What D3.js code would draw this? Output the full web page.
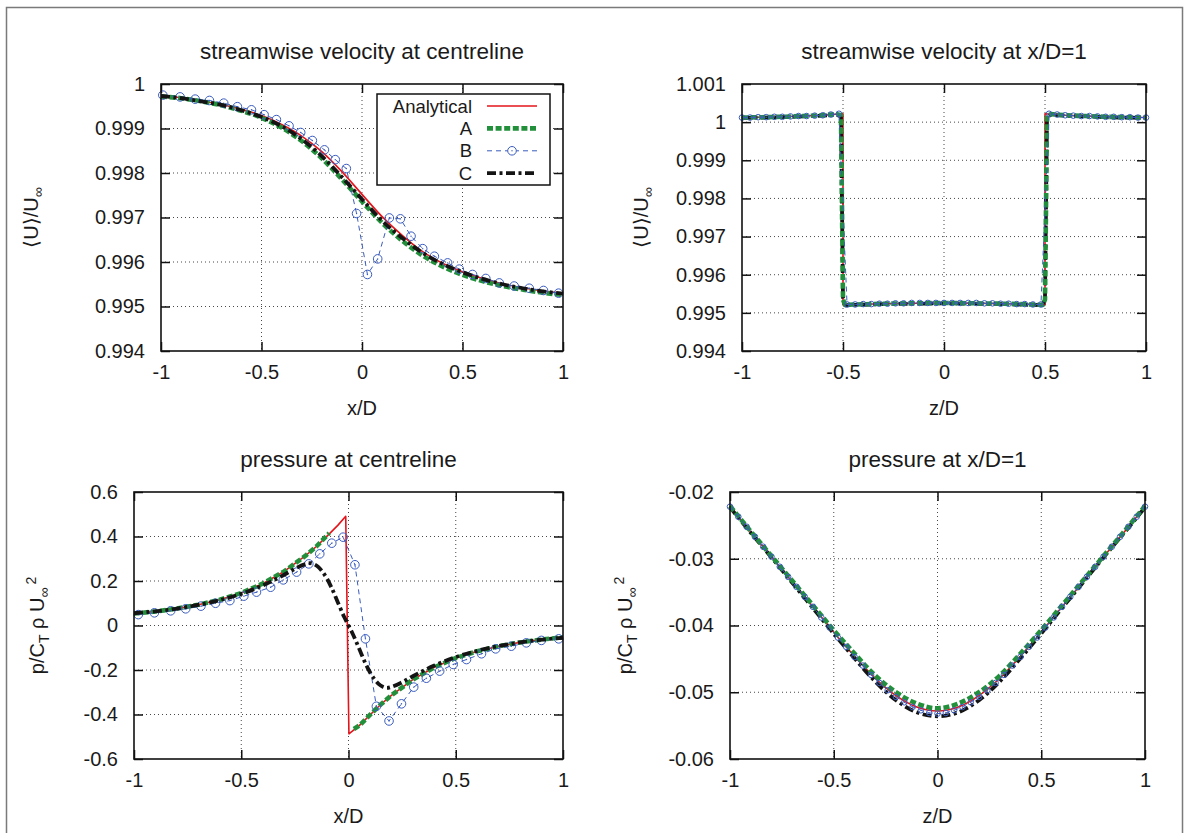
<!DOCTYPE html>
<html>
<head>
<meta charset="utf-8">
<script src="https://cdn.jsdelivr.net/npm/d3@7"></script>
<style>
body { margin: 0; background: #fff; }
svg text { font-family: "Liberation Sans", Arial, Helvetica, sans-serif; fill: #1a1a1a; }
</style>
</head>
<body>
<svg id="chart" width="1189" height="833"></svg>
<script>
// ---- data ----

// streamwise velocity at centreline (top left)
let ucX = [-1, -0.9, -0.8, -0.7, -0.6, -0.5, -0.4, -0.3, -0.2, -0.1, 0, 0.1, 0.2, 0.3, 0.4, 0.5, 0.6, 0.7, 0.8, 0.9, 1]
let ucAnalytical = [0.99973, 0.99969, 0.99962, 0.99954, 0.99943, 0.99929, 0.99909, 0.99883, 0.99848, 0.99803, 0.99752, 0.99702, 0.99660, 0.99624, 0.99597, 0.99578, 0.99563, 0.99551, 0.99542, 0.99535, 0.99530]
let ucA = [0.99972, 0.99968, 0.99961, 0.99952, 0.99940, 0.99924, 0.99902, 0.99872, 0.99833, 0.99786, 0.99736, 0.99688, 0.99648, 0.99615, 0.99590, 0.99571, 0.99557, 0.99546, 0.99538, 0.99531, 0.99526]
let ucC = [0.99973, 0.99968, 0.99961, 0.99953, 0.99941, 0.99926, 0.99905, 0.99876, 0.99838, 0.99791, 0.99741, 0.99693, 0.99654, 0.99621, 0.99596, 0.99577, 0.99562, 0.99550, 0.99541, 0.99534, 0.99529]
let ucBX = [-0.991, -0.905, -0.830, -0.759, -0.688, -0.620, -0.550, -0.487, -0.426, -0.363, -0.305, -0.247, -0.187, -0.133, -0.078, -0.027, 0.027, 0.078, 0.136, 0.191, 0.244, 0.302, 0.360, 0.426, 0.484, 0.550, 0.616, 0.683, 0.757, 0.832, 0.903, 0.978]
let ucB = [0.99975, 0.99971, 0.99966, 0.99963, 0.99957, 0.99949, 0.99942, 0.99931, 0.99920, 0.99906, 0.99891, 0.99873, 0.99852, 0.99830, 0.99810, 0.99709, 0.99572, 0.99607, 0.99699, 0.99697, 0.99658, 0.99630, 0.99613, 0.99598, 0.99584, 0.99572, 0.99563, 0.99553, 0.99546, 0.99541, 0.99536, 0.99530]

// streamwise velocity at x/D=1 (top right)
let uxZ = [-1, -0.9, -0.8, -0.7, -0.6, -0.55, -0.5, -0.5, -0.45, -0.3, -0.15, 0, 0.15, 0.3, 0.45, 0.5, 0.5, 0.55, 0.6, 0.7, 0.8, 0.9, 1]
let uxAnalytical = [1.00012, 1.00013, 1.00014, 1.00016, 1.00018, 1.0002, 1.00022, 0.99521, 0.99522, 0.99524, 0.99525, 0.99526, 0.99525, 0.99524, 0.99522, 0.99521, 1.00022, 1.0002, 1.00018, 1.00016, 1.00014, 1.00013, 1.00012]
let uxSimZ = [-1, -0.9, -0.8, -0.7, -0.6, -0.53, -0.51, -0.5, -0.49, -0.3, -0.15, 0, 0.15, 0.3, 0.49, 0.5, 0.51, 0.53, 0.6, 0.7, 0.8, 0.9, 1]
let uxA = [1.00012, 1.00013, 1.00014, 1.00016, 1.00018, 1.00021, 1.00018, 0.99535, 0.99521, 0.99524, 0.99525, 0.99526, 0.99525, 0.99524, 0.99521, 0.99535, 1.00018, 1.00021, 1.00018, 1.00016, 1.00014, 1.00013, 1.00012]
let uxC = [1.00011, 1.00012, 1.00013, 1.00015, 1.00017, 1.00019, 1.00015, 0.9954, 0.9952, 0.99523, 0.99524, 0.99525, 0.99524, 0.99523, 0.9952, 0.9954, 1.00015, 1.00019, 1.00017, 1.00015, 1.00013, 1.00012, 1.00011]
let uxBZ = [-1, -0.96, -0.92, -0.88, -0.84, -0.8, -0.76, -0.72, -0.68, -0.64, -0.6, -0.56, -0.52, -0.48, -0.44, -0.4, -0.36, -0.32, -0.28, -0.24, -0.2, -0.16, -0.12, -0.08, -0.04, 0, 0.04, 0.08, 0.12, 0.16, 0.2, 0.24, 0.28, 0.32, 0.36, 0.4, 0.44, 0.48, 0.52, 0.56, 0.6, 0.64, 0.68, 0.72, 0.76, 0.8, 0.84, 0.88, 0.92, 0.96, 1]
let uxB = [1.00012, 1.00012, 1.00013, 1.00013, 1.00014, 1.00014, 1.00015, 1.00016, 1.00016, 1.00017, 1.00018, 1.0002, 1.00022, 0.99522, 0.99522, 0.99523, 0.99523, 0.99524, 0.99524, 0.99525, 0.99525, 0.99526, 0.99526, 0.99526, 0.99526, 0.99526, 0.99526, 0.99526, 0.99526, 0.99526, 0.99525, 0.99525, 0.99524, 0.99524, 0.99523, 0.99523, 0.99522, 0.99522, 1.00022, 1.0002, 1.00018, 1.00017, 1.00016, 1.00016, 1.00015, 1.00014, 1.00014, 1.00013, 1.00013, 1.00012, 1.00012]

// pressure at centreline (bottom left)
let pcX = [-1, -0.9, -0.8, -0.7, -0.6, -0.5, -0.4, -0.3, -0.2, -0.15, -0.1, -0.05, -0.013, 0.002, 0.05, 0.1, 0.15, 0.2, 0.3, 0.4, 0.5, 0.6, 0.7, 0.8, 0.9, 1]
let pcAnalytical = [0.054, 0.063, 0.076, 0.093, 0.116, 0.146, 0.188, 0.243, 0.314, 0.355, 0.402, 0.450, 0.491, -0.487, -0.450, -0.402, -0.355, -0.314, -0.243, -0.188, -0.146, -0.116, -0.093, -0.076, -0.063, -0.053]
let pcAX = [-1, -0.9, -0.8, -0.7, -0.6, -0.5, -0.4, -0.3, -0.2, -0.15, -0.09, 0, 0.025, 0.05, 0.1, 0.15, 0.2, 0.3, 0.4, 0.5, 0.6, 0.7, 0.8, 0.9, 1]
let pcA = [0.054, 0.063, 0.076, 0.093, 0.116, 0.146, 0.188, 0.243, 0.314, 0.355, 0.415, null, -0.465, -0.450, -0.402, -0.355, -0.314, -0.243, -0.188, -0.146, -0.116, -0.093, -0.076, -0.063, -0.053]
let pcCX = [-1, -0.8, -0.6, -0.5, -0.4, -0.3, -0.25, -0.2, -0.18, -0.16, -0.14, -0.12, -0.1, -0.08, -0.05, -0.02, 0, 0.02, 0.05, 0.08, 0.1, 0.12, 0.14, 0.16, 0.18, 0.2, 0.25, 0.3, 0.4, 0.5, 0.6, 0.8, 1]
let pcC = [0.055, 0.076, 0.114, 0.142, 0.180, 0.228, 0.255, 0.276, 0.280, 0.275, 0.262, 0.240, 0.210, 0.172, 0.105, 0.038, 0, -0.038, -0.105, -0.172, -0.210, -0.240, -0.262, -0.275, -0.280, -0.276, -0.255, -0.228, -0.180, -0.142, -0.114, -0.076, -0.055]
let pcBX = [-0.980, -0.905, -0.829, -0.759, -0.688, -0.620, -0.553, -0.488, -0.429, -0.363, -0.304, -0.242, -0.185, -0.134, -0.078, -0.025, 0.030, 0.079, 0.130, 0.189, 0.247, 0.304, 0.363, 0.425, 0.488, 0.550, 0.620, 0.686, 0.759, 0.829, 0.899, 0.980]
let pcB = [0.049, 0.057, 0.066, 0.075, 0.087, 0.100, 0.112, 0.132, 0.150, 0.172, 0.205, 0.240, 0.277, 0.322, 0.370, 0.397, 0.273, -0.060, -0.363, -0.429, -0.352, -0.277, -0.237, -0.205, -0.175, -0.153, -0.127, -0.105, -0.093, -0.078, -0.067, -0.060]

// pressure at x/D=1 (bottom right)
let prZ = [-1, -0.9, -0.8, -0.7, -0.6, -0.5, -0.4, -0.3, -0.2, -0.1, 0, 0.1, 0.2, 0.3, 0.4, 0.5, 0.6, 0.7, 0.8, 0.9, 1]
let prAnalytical = [-0.0222, -0.0260, -0.0297, -0.0335, -0.0372, -0.0410, -0.0446, -0.0479, -0.0505, -0.0522, -0.0528, -0.0522, -0.0505, -0.0479, -0.0446, -0.0410, -0.0372, -0.0335, -0.0297, -0.0260, -0.0222]
let prA = [-0.0221, -0.0259, -0.0296, -0.0333, -0.0370, -0.0407, -0.0442, -0.0475, -0.0500, -0.0517, -0.0524, -0.0517, -0.0500, -0.0475, -0.0442, -0.0407, -0.0370, -0.0333, -0.0296, -0.0259, -0.0221]
let prC = [-0.0223, -0.0261, -0.0298, -0.0336, -0.0374, -0.0412, -0.0449, -0.0484, -0.0512, -0.0530, -0.0536, -0.0530, -0.0512, -0.0484, -0.0449, -0.0412, -0.0374, -0.0336, -0.0298, -0.0261, -0.0223]
let prBZ = uxBZ
let prB = [-0.0222, -0.0237, -0.0252, -0.0267, -0.0282, -0.0297, -0.0312, -0.0327, -0.0342, -0.0357, -0.0372, -0.0388, -0.0403, -0.0418, -0.0432, -0.0447, -0.0460, -0.0474, -0.0486, -0.0497, -0.0507, -0.0515, -0.0522, -0.0527, -0.0531, -0.0532, -0.0531, -0.0527, -0.0522, -0.0515, -0.0507, -0.0497, -0.0486, -0.0474, -0.0460, -0.0447, -0.0432, -0.0418, -0.0403, -0.0388, -0.0372, -0.0357, -0.0342, -0.0327, -0.0312, -0.0297, -0.0282, -0.0267, -0.0252, -0.0237, -0.0222]

// ticks
let xTicks = [-1, -0.5, 0, 0.5, 1]
let xTickLabels = ['-1', '-0.5', '0', '0.5', '1']
let ucTicks = [0.994, 0.995, 0.996, 0.997, 0.998, 0.999, 1]
let ucTickLabels = ['0.994', '0.995', '0.996', '0.997', '0.998', '0.999', '1']
let uxTicks = [0.994, 0.995, 0.996, 0.997, 0.998, 0.999, 1, 1.001]
let uxTickLabels = ['0.994', '0.995', '0.996', '0.997', '0.998', '0.999', '1', '1.001']
let pcTicks = [-0.6, -0.4, -0.2, 0, 0.2, 0.4, 0.6]
let pcTickLabels = ['-0.6', '-0.4', '-0.2', '0', '0.2', '0.4', '0.6']
let prTicks = [-0.06, -0.05, -0.04, -0.03, -0.02]
let prTickLabels = ['-0.06', '-0.05', '-0.04', '-0.03', '-0.02']

let legendNames = ['Analytical', 'A', 'B', 'C']

// ---- styles ----
let styles = {
    Analytical: { stroke: '#e3141b', width: 1.6, dash: null },
    A: { stroke: '#22903b', width: 4.6, dash: '6,2.6' },
    B: { stroke: '#3a5cbf', width: 1, dash: '5,4' },
    C: { stroke: '#141414', width: 3.8, dash: '9,3.5,3,3.5' }
}

let svg = d3.select('#chart')

// outer frame
svg.append('rect')
    .attr('x', 6.5).attr('y', 7.5)
    .attr('width', 1176).attr('height', 880)
    .attr('fill', 'none')
    .attr('stroke', '#7a7a7a')
    .attr('stroke-width', 1.5)

let drawSeries = function(g, x, y, xs, ys, name, curve) {
    let st = styles[name]
    let pts = xs.map((v, i) => ({ x: v, y: ys[i] }))
    let line = d3.line()
        .defined(d => d.y != null)
        .x(d => x(d.x))
        .y(d => y(d.y))
        .curve(curve || d3.curveLinear)
    g.append('path')
        .attr('d', line(pts))
        .attr('fill', 'none')
        .attr('stroke', st.stroke)
        .attr('stroke-width', st.width)
        .attr('stroke-dasharray', st.dash)
        .attr('stroke-linejoin', 'round')
    return pts
}

let drawMarkers = function(g, x, y, pts, r) {
    let m = g.selectAll(null)
        .data(pts)
        .enter()
        .append('g')
        .attr('transform', d => 'translate(' + x(d.x) + ',' + y(d.y) + ')')
    m.append('circle')
        .attr('r', r)
        .attr('fill', 'none')
        .attr('stroke', styles.B.stroke)
        .attr('stroke-width', 1)
    m.append('circle')
        .attr('r', 0.7)
        .attr('fill', styles.B.stroke)
}

let makePanel = function(p) {
    let x = d3.scaleLinear().domain([-1, 1]).range([p.left, p.right])
    let y = d3.scaleLinear().domain(p.yDomain).range([p.bottom, p.top])
    let g = svg.append('g')

    // dotted grid
    g.selectAll('.gx')
        .data(xTicks.slice(1, -1))
        .enter()
        .append('line')
        .attr('x1', d => x(d)).attr('x2', d => x(d))
        .attr('y1', p.top).attr('y2', p.bottom)
        .attr('stroke', '#333').attr('stroke-width', 0.9)
        .attr('stroke-dasharray', '1,3')
    g.selectAll('.gy')
        .data(p.yTicks.slice(1, -1))
        .enter()
        .append('line')
        .attr('x1', p.left).attr('x2', p.right)
        .attr('y1', d => y(d)).attr('y2', d => y(d))
        .attr('stroke', '#333').attr('stroke-width', 0.9)
        .attr('stroke-dasharray', '1,3')

    // axes with inward ticks, mirrored on all sides
    let axes = [
        g.append('g').attr('transform', 'translate(0,' + p.bottom + ')')
            .call(d3.axisBottom(x).tickValues(xTicks).tickFormat((d, i) => xTickLabels[i]).tickSize(-9).tickPadding(14)),
        g.append('g').attr('transform', 'translate(0,' + p.top + ')')
            .call(d3.axisTop(x).tickValues(xTicks).tickFormat('').tickSize(-9)),
        g.append('g').attr('transform', 'translate(' + p.left + ',0)')
            .call(d3.axisLeft(y).tickValues(p.yTicks).tickFormat((d, i) => p.yTickLabels[i]).tickSize(-9).tickPadding(16)),
        g.append('g').attr('transform', 'translate(' + p.right + ',0)')
            .call(d3.axisRight(y).tickValues(p.yTicks).tickFormat('').tickSize(-9))
    ]
    axes.forEach(a => {
        a.select('.domain').remove()
        a.selectAll('line').attr('stroke', '#111').attr('stroke-width', 1.5)
        a.selectAll('text').attr('font-size', 20).attr('fill', '#1a1a1a')
            .style('font-family', '"Liberation Sans", Arial, sans-serif')
    })

    // series: Analytical, A, B, C
    p.series(g, x, y)

    // box
    g.append('rect')
        .attr('x', p.left).attr('y', p.top)
        .attr('width', p.right - p.left).attr('height', p.bottom - p.top)
        .attr('fill', 'none').attr('stroke', '#111').attr('stroke-width', 1.6)

    // title
    g.append('text')
        .attr('x', (p.left + p.right) / 2)
        .attr('y', p.top - 25)
        .attr('text-anchor', 'middle')
        .attr('font-size', 22.5)
        .text(p.title)

    // x label
    g.append('text')
        .attr('x', (p.left + p.right) / 2)
        .attr('y', p.bottom + 64)
        .attr('text-anchor', 'middle')
        .attr('font-size', 20)
        .text(p.xLabel)

    // y label (rotated)
    let yl = g.append('text')
        .attr('transform', 'translate(' + p.yLabelX + ',' + ((p.top + p.bottom) / 2) + ') rotate(-90)')
        .attr('text-anchor', 'middle')
        .attr('font-size', 20)
    p.yLabel(yl)

    return { x: x, y: y, g: g }
}

let velocityLabel = function(t) {
    t.append('tspan').text('\u27E8U\u27E9/U')
    t.append('tspan').attr('dy', 5).attr('font-size', 14).text('\u221E')
}
let pressureLabel = function(t) {
    t.append('tspan').text('p/C')
    t.append('tspan').attr('dy', 5).attr('font-size', 14).text('T')
    t.append('tspan').attr('dy', -5).text(' \u03C1 U')
    t.append('tspan').attr('dy', 5).attr('font-size', 14).text('\u221E')
    t.append('tspan').attr('dy', -13).attr('dx', 3).attr('font-size', 14).text('2')
}

// top left
makePanel({
    left: 161, right: 563, top: 84, bottom: 351,
    yDomain: [0.994, 1], yTicks: ucTicks, yTickLabels: ucTickLabels,
    title: 'streamwise velocity at centreline', xLabel: 'x/D',
    yLabelX: 38, yLabel: velocityLabel,
    series: function(g, x, y) {
        drawSeries(g, x, y, ucX, ucAnalytical, 'Analytical', d3.curveMonotoneX)
        drawSeries(g, x, y, ucX, ucA, 'A', d3.curveMonotoneX)
        let b = drawSeries(g, x, y, ucBX, ucB, 'B')
        drawMarkers(g, x, y, b, 4.3)
        drawSeries(g, x, y, ucX, ucC, 'C', d3.curveMonotoneX)
    }
})

// top right
makePanel({
    left: 742, right: 1146, top: 84, bottom: 351,
    yDomain: [0.994, 1.001], yTicks: uxTicks, yTickLabels: uxTickLabels,
    title: 'streamwise velocity at x/D=1', xLabel: 'z/D',
    yLabelX: 648, yLabel: velocityLabel,
    series: function(g, x, y) {
        drawSeries(g, x, y, uxZ, uxAnalytical, 'Analytical')
        drawSeries(g, x, y, uxSimZ, uxC, 'C')
        drawSeries(g, x, y, uxSimZ, uxA, 'A')
        let b = drawSeries(g, x, y, uxBZ, uxB, 'B')
        drawMarkers(g, x, y, b, 2.8)
    }
})

// bottom left
makePanel({
    left: 134, right: 563, top: 492, bottom: 759,
    yDomain: [-0.6, 0.6], yTicks: pcTicks, yTickLabels: pcTickLabels,
    title: 'pressure at centreline', xLabel: 'x/D',
    yLabelX: 44, yLabel: pressureLabel,
    series: function(g, x, y) {
        drawSeries(g, x, y, pcX, pcAnalytical, 'Analytical')
        drawSeries(g, x, y, pcAX, pcA, 'A')
        let b = drawSeries(g, x, y, pcBX, pcB, 'B')
        drawMarkers(g, x, y, b, 4.3)
        drawSeries(g, x, y, pcCX, pcC, 'C', d3.curveMonotoneX)
    }
})

// bottom right
makePanel({
    left: 730, right: 1145, top: 492, bottom: 759,
    yDomain: [-0.06, -0.02], yTicks: prTicks, yTickLabels: prTickLabels,
    title: 'pressure at x/D=1', xLabel: 'z/D',
    yLabelX: 632, yLabel: pressureLabel,
    series: function(g, x, y) {
        drawSeries(g, x, y, prZ, prAnalytical, 'Analytical', d3.curveMonotoneX)
        drawSeries(g, x, y, prZ, prC, 'C', d3.curveMonotoneX)
        drawSeries(g, x, y, prZ, prA, 'A', d3.curveMonotoneX)
        let b = drawSeries(g, x, y, prBZ, prB, 'B')
        drawMarkers(g, x, y, b, 2.8)
    }
})

// legend (top left panel)
let lg = svg.append('g')
lg.append('rect')
    .attr('x', 377).attr('y', 94)
    .attr('width', 173).attr('height', 91)
    .attr('fill', '#fff').attr('stroke', '#111').attr('stroke-width', 1.5)

legendNames.forEach((name, i) => {
    let cy = 106 + i * 22.4
    lg.append('text')
        .attr('x', 472).attr('y', cy)
        .attr('dy', '0.36em')
        .attr('text-anchor', 'end')
        .attr('font-size', 18.5)
        .text(name)
    let st = styles[name]
    lg.append('line')
        .attr('x1', 487).attr('x2', 537)
        .attr('y1', cy).attr('y2', cy)
        .attr('stroke', st.stroke)
        .attr('stroke-width', st.width)
        .attr('stroke-dasharray', st.dash)
    if (name == 'B') {
        lg.append('circle')
            .attr('cx', 512).attr('cy', cy).attr('r', 4.3)
            .attr('fill', '#fff').attr('stroke', st.stroke).attr('stroke-width', 1)
        lg.append('circle')
            .attr('cx', 512).attr('cy', cy).attr('r', 0.7)
            .attr('fill', st.stroke)
    }
})
</script>
</body>
</html>
